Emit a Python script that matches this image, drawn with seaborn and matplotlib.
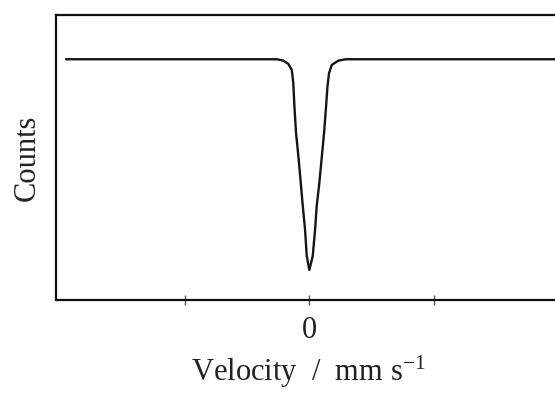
import matplotlib
matplotlib.use("Agg")
import matplotlib.pyplot as plt
import seaborn as sns
import pandas as pd

# Single-line absorption spectrum: velocity (mm/s) and normalised counts
velocity = [-1.954, -0.262, -0.209, -0.169, -0.141, -0.129, -0.120, -0.107,
            -0.088, -0.069, -0.053, -0.035, -0.021, 0.000,
            0.027, 0.046, 0.059, 0.080, 0.100, 0.118, 0.134, 0.145,
            0.158, 0.180, 0.233, 0.292, 2.050]
counts = [1.0000, 1.0000, 0.9987, 0.9956, 0.9898, 0.9772, 0.9550, 0.9300,
          0.9076, 0.8826, 0.8608, 0.8386, 0.8132, 0.8000,
          0.8132, 0.8386, 0.8608, 0.8826, 0.9076, 0.9300, 0.9550, 0.9740,
          0.9868, 0.9946, 0.9987, 1.0000, 1.0000]
tick_positions = [-1, 0, 1]
tick_labels = ["", "0", ""]

df = pd.DataFrame({"velocity": velocity, "counts": counts})

sns.set_style("white")
plt.rcParams["font.family"] = ["Liberation Serif", "DejaVu Serif"]
plt.rcParams["mathtext.fontset"] = "stix"

fig = plt.figure(figsize=(5.55, 3.94), dpi=100)
ax = fig.add_axes([56 / 555, 94 / 394, 504.5 / 555, 285 / 394])

sns.lineplot(data=df, x="velocity", y="counts", ax=ax, color="#151515",
             linewidth=1.7, estimator=None, sort=False)

ax.set_xlim(-2.035, 2.017)
ax.set_ylim(0.7715, 1.042)

ax.set_xticks(tick_positions)
ax.set_xticklabels(tick_labels)
ax.set_yticks([])
ax.tick_params(axis="x", bottom=True, direction="inout", length=7, width=1,
               color="#555555", labelsize=22, pad=8, labelcolor="#222222")

for side in ["left", "top", "bottom"]:
    ax.spines[side].set_linewidth(1.6)
    ax.spines[side].set_color("#111111")
ax.spines["right"].set_visible(False)

ax.set_xlabel("Velocity  /  mm s$^{\\mathregular{-1}}$", fontsize=22,
              labelpad=6, color="#222222")
ax.set_ylabel("Counts", fontsize=22, labelpad=10, color="#222222")

fig.savefig("out.png", dpi=100)
